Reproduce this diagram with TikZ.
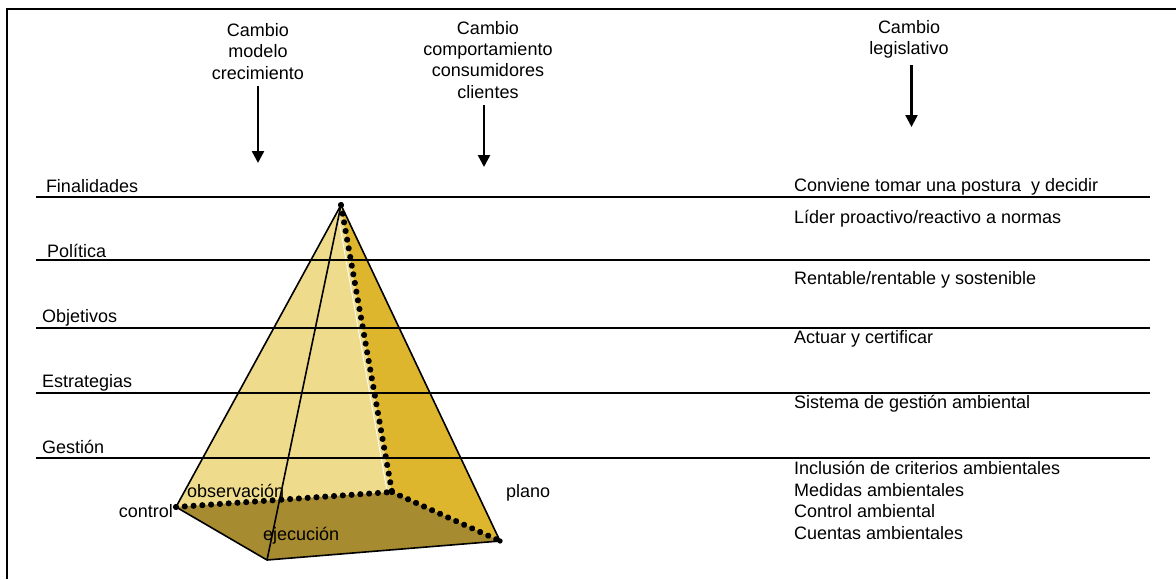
\documentclass[tikz,border=0pt]{standalone}
\usepackage{fontspec}
\setmainfont{Liberation Sans}
\usetikzlibrary{arrows.meta,decorations.markings}
\definecolor{lightY}{HTML}{EEDC8C}
\definecolor{goldY}{HTML}{DDB62E}
\definecolor{oliveY}{HTML}{A78B30}
\begin{document}
\begin{tikzpicture}[x=0.75pt,y=-0.75pt,
  every node/.style={font=\fontsize{13.5}{16}\selectfont, inner sep=0pt, outer sep=0pt},
  levelline/.style={line width=1.5pt},
  lbl/.style={anchor=base west},
  topl/.style={align=center, anchor=north},
  arr/.style={line width=1.8pt, -{Triangle[width=9pt,length=9pt]}},
  pedge/.style={line width=1.2pt, line join=round},
  dotline/.style={postaction={decorate}, decoration={markings,
     mark=between positions 0 and 1 step 6.6pt with {\fill[black] (0,0) circle (2.3pt);}}},
  cornerdot/.style={circle, fill=black, minimum size=4pt}
]
\useasboundingbox (0,0) rectangle (1176,579);
\draw[line width=2.2pt] (7,579) -- (7,9) -- (1176,9);

% pyramid corners
\coordinate (A) at (341,205);
\coordinate (C) at (176,507);
\coordinate (B) at (392,492);
\coordinate (P) at (500,541);
\coordinate (F) at (267,560);

% faces
\fill[lightY] (A) -- (C) -- (B) -- cycle;
\fill[goldY] (A) -- (B) -- (P) -- cycle;
\fill[oliveY] (C) -- (F) -- (P) -- (B) -- cycle;
\draw[white, line width=0.6pt] ([xshift=-3.6pt]A) -- ([xshift=-3.6pt]B);

% level lines
\foreach \y/\n in {197/1,260/2,328/3,393/4,458/5}{
  \coordinate (La\n) at (36,\y);
  \coordinate (Lb\n) at (1150,\y);
  \draw[levelline] (La\n) -- (Lb\n);
}

% pyramid edges
\draw[pedge] (A) -- (C) -- (F) -- (P) -- cycle;
\draw[pedge] (A) -- (F);
\path[dotline] (A) -- (B);
\path[dotline] (C) -- (B);
\path[dotline] (B) -- (P);
\node[cornerdot] (cA) at (A) {};
\node[cornerdot] (cC) at (C) {};
\node[cornerdot] (cP) at (P) {};

% pyramid labels
\node[lbl] (obs) at (187,497) {observación};
\node[anchor=base east] (ctl) at (173,517) {control};
\node[lbl] (eje) at (263,540) {ejecución};
\node[lbl] (pla) at (506,497) {plano};

% left labels
\node[lbl] (fin) at (46,192) {Finalidades};
\node[lbl] (pol) at (47,257) {Política};
\node[lbl] (obj) at (42,322) {Objetivos};
\node[lbl] (est) at (42,387) {Estrategias};
\node[lbl] (ges) at (42,453) {Gestión};

% right labels
\node[lbl] (r1) at (794,191) {Conviene tomar una postura\ \ y decidir};
\node[lbl] (r2) at (794,223) {Líder proactivo/reactivo a normas};
\node[lbl] (r3) at (794,284) {Rentable/rentable y sostenible};
\node[lbl] (r4) at (794,343) {Actuar y certificar};
\node[lbl] (r5) at (794,408) {Sistema de gestión ambiental};
\node[lbl] (r6) at (794,474) {Inclusión de criterios ambientales};
\node[lbl] (r7) at (794,496) {Medidas ambientales};
\node[lbl] (r8) at (794,517) {Control ambiental};
\node[lbl] (r9) at (794,539) {Cuentas ambientales};

% top labels and arrows
\node[topl] (t1) at (258,23.5) {Cambio\\modelo\\crecimiento};
\node[topl] (t2) at (488,21.2) {Cambio\\comportamiento\\consumidores\\clientes};
\node[topl] (t3) at (909,20.2) {Cambio\\legislativo};
\coordinate (h1) at (258,163);
\coordinate (h2) at (484,167);
\coordinate (h3) at (911.5,127);
\draw[arr] (h1 |- t1.south) ++(0,7) -- (h1);
\draw[arr] (h2 |- t2.south) ++(0,7) -- (h2);
\draw[arr] (h3 |- t3.south) ++(0,7) -- (h3);
\end{tikzpicture}
\end{document}
